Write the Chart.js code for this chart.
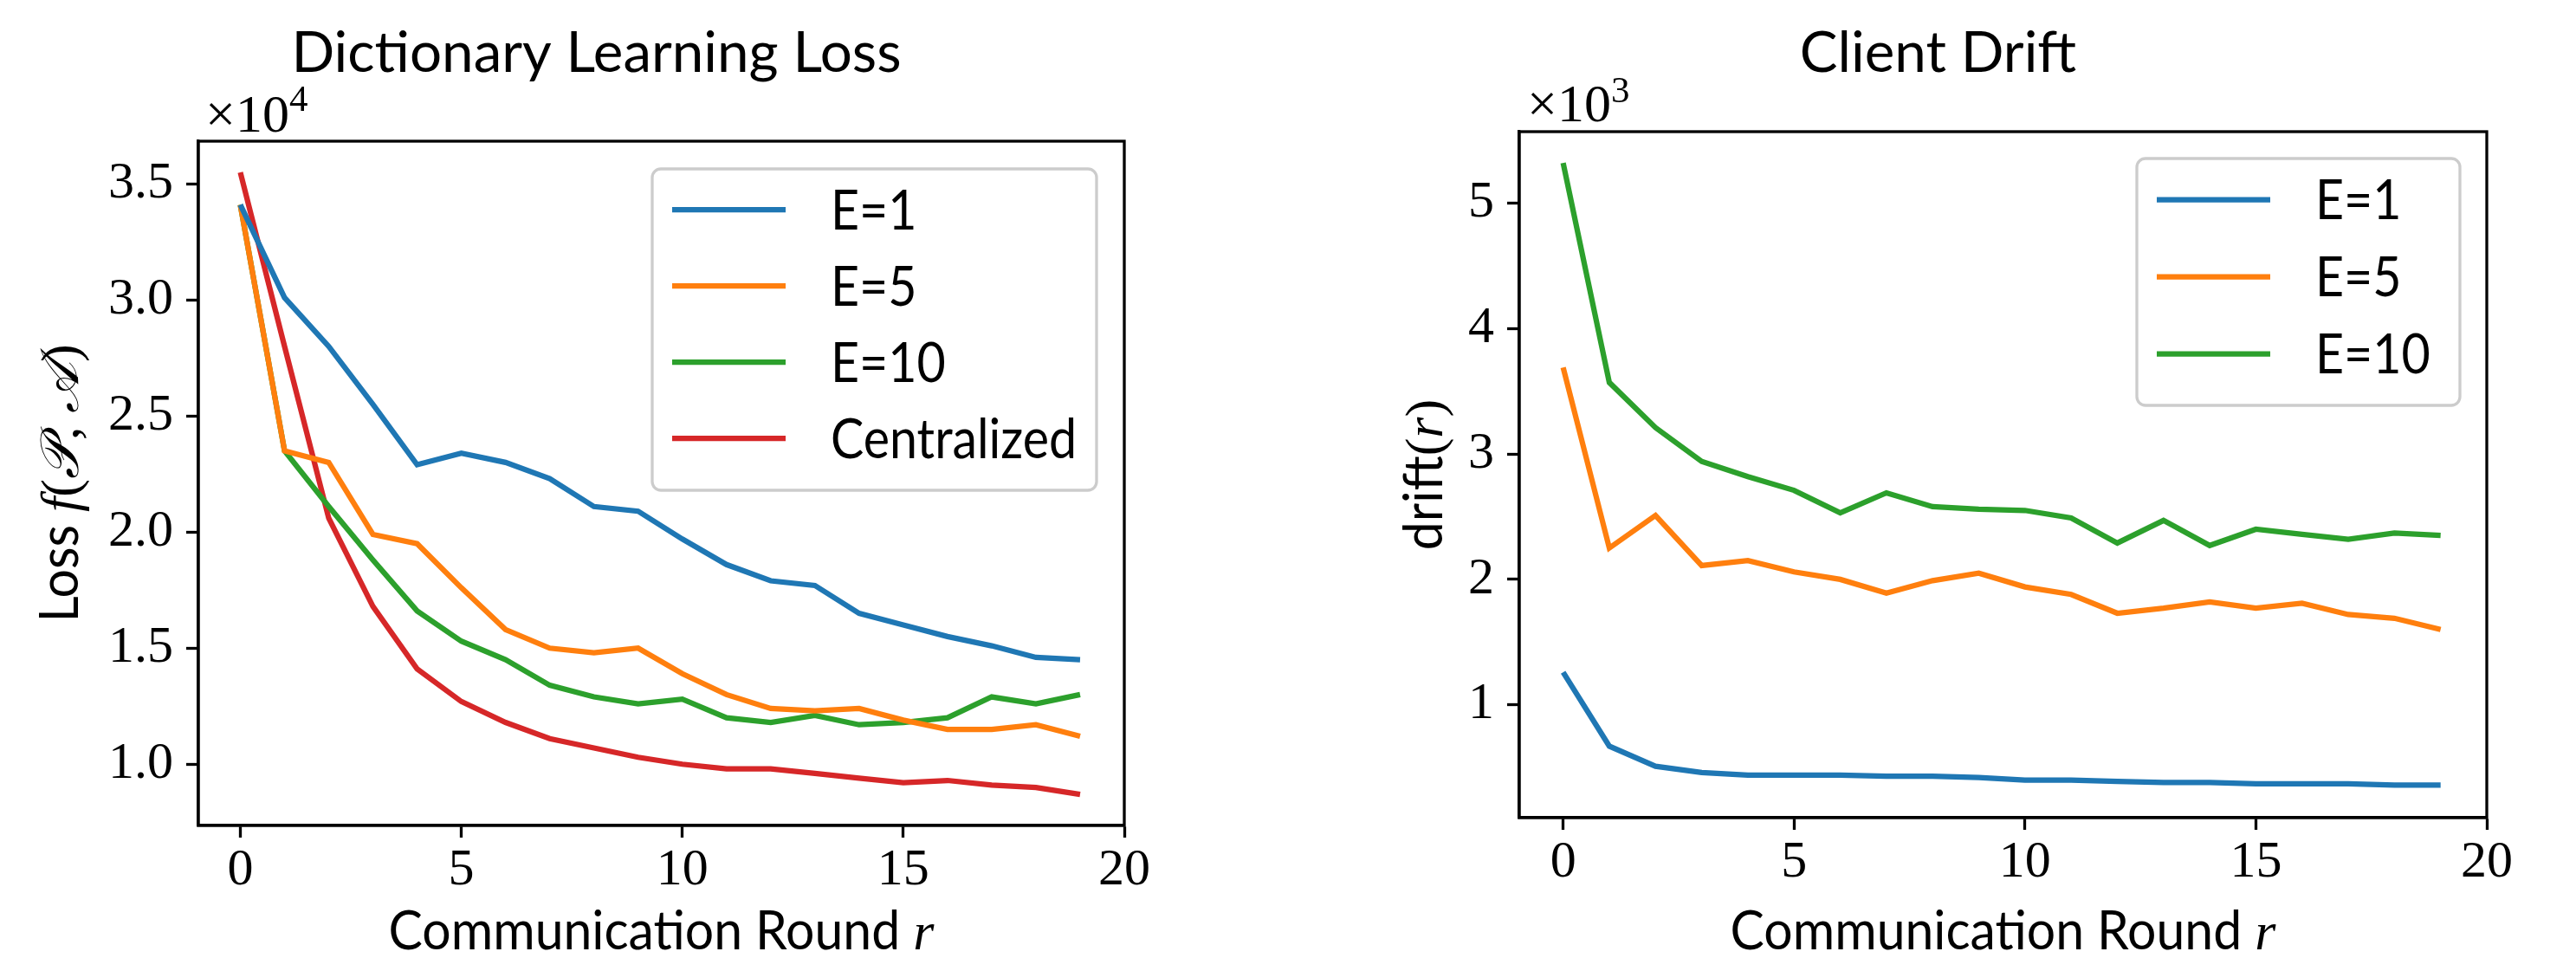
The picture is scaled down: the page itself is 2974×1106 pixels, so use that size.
<!DOCTYPE html>
<html>
<head>
<meta charset="utf-8">
<script src="https://cdn.jsdelivr.net/npm/chart.js@4.4.0/dist/chart.umd.min.js"></script>
<style>
  html, body { margin: 0; padding: 0; background: #fff; }
  #wrap { position: relative; width: 2974px; height: 1106px; }
  .pane { position: absolute; top: 0; width: 1487px; height: 1106px; }
</style>
</head>
<body>
<div id="wrap">
  <div class="pane" style="left:0"><canvas id="lossChart" width="1487" height="1106"></canvas></div>
  <div class="pane" style="left:1487px"><canvas id="driftChart" width="1487" height="1106"></canvas></div>
</div>
<script>
// communication rounds
const rounds = [0, 1, 2, 3, 4, 5, 6, 7, 8, 9, 10, 11, 12, 13, 14, 15, 16, 17, 18, 19];

// loss, in units of 10^4
const lossE1 = [3.41, 3.01, 2.80, 2.55, 2.29, 2.34, 2.30, 2.23, 2.11, 2.09, 1.97, 1.86, 1.79, 1.77, 1.65, 1.60, 1.55, 1.51, 1.46, 1.45];
const lossE5 = [3.41, 2.35, 2.30, 1.99, 1.95, 1.76, 1.58, 1.50, 1.48, 1.50, 1.39, 1.30, 1.24, 1.23, 1.24, 1.19, 1.15, 1.15, 1.17, 1.12];
const lossE10 = [3.41, 2.35, 2.11, 1.88, 1.66, 1.53, 1.45, 1.34, 1.29, 1.26, 1.28, 1.20, 1.18, 1.21, 1.17, 1.18, 1.20, 1.29, 1.26, 1.30];
const lossCentral = [3.55, 2.80, 2.06, 1.68, 1.41, 1.27, 1.18, 1.11, 1.07, 1.03, 1.00, 0.98, 0.98, 0.96, 0.94, 0.92, 0.93, 0.91, 0.90, 0.87];

// client drift, in units of 10^3
const driftE1 = [1.26, 0.67, 0.51, 0.46, 0.44, 0.44, 0.44, 0.43, 0.43, 0.42, 0.40, 0.40, 0.39, 0.38, 0.38, 0.37, 0.37, 0.37, 0.36, 0.36];
const driftE5 = [3.69, 2.25, 2.51, 2.11, 2.15, 2.06, 2.00, 1.89, 1.99, 2.05, 1.94, 1.88, 1.73, 1.77, 1.82, 1.77, 1.81, 1.72, 1.69, 1.60];
const driftE10 = [5.32, 3.57, 3.21, 2.94, 2.82, 2.71, 2.53, 2.69, 2.58, 2.56, 2.55, 2.49, 2.29, 2.47, 2.27, 2.40, 2.36, 2.32, 2.37, 2.35];

// tick labels
const roundTicks = [0, 5, 10, 15, 20];
const lossTicks = ['1.0', '1.5', '2.0', '2.5', '3.0', '3.5'];
const driftTicks = ['1', '2', '3', '4', '5'];

const COLORS = ['#1f77b4', '#ff7f0e', '#2ca02c', '#d62728'];
const SANS = 'Lato';
const SERIF = '"Liberation Serif"';
const FS = 62;

// draw a row of differently styled text pieces; sx squeezes a piece horizontally
function drawRuns(ctx, runs, x, y, align) {
  let total = 0;
  runs.forEach(r => { ctx.font = r.font; r.w = ctx.measureText(r.t).width * (r.sx || 1); total += r.w; });
  let cx = align === 'center' ? x - total / 2 : x;
  ctx.textAlign = 'left';
  ctx.textBaseline = 'alphabetic';
  runs.forEach(r => {
    ctx.font = r.font;
    ctx.save();
    ctx.translate(cx, y + (r.dy || 0));
    ctx.scale(r.sx || 1, 1);
    ctx.fillText(r.t, 0, 0);
    ctx.restore();
    cx += r.w;
  });
}

const sans = (t, size, sx) => ({ t, font: `${size || FS}px ${SANS}`, sx });
const serif = t => ({ t, font: `${FS}px ${SERIF}` });
const ital = t => ({ t, font: `italic ${FS}px ${SERIF}` });
const sup = (t, dy) => ({ t, font: `${Math.round(FS * 0.7)}px ${SERIF}`, dy });

const decor = {
  id: 'decor',
  afterDraw(chart, args, o) {
    const { ctx, chartArea: a } = chart;
    ctx.save();
    ctx.strokeStyle = '#000';
    ctx.lineWidth = 3.3;
    ctx.strokeRect(a.left, a.top, a.right - a.left, a.bottom - a.top);
    ctx.fillStyle = '#000';
    const cx = (a.left + a.right) / 2;
    drawRuns(ctx, [sans(o.title, 65.5)], cx + o.titleShift, o.titleY, 'center');
    drawRuns(ctx, o.xLabel, cx, o.xLabelY, 'center');
    ctx.save();
    ctx.translate(o.yLabelX, (a.top + a.bottom) / 2);
    ctx.rotate(-Math.PI / 2);
    drawRuns(ctx, o.yLabel, 0, 0, 'center');
    ctx.restore();
    drawRuns(ctx, o.offset, o.offsetX, o.offsetY, 'left');

    const L = o.legend;
    ctx.beginPath();
    ctx.roundRect(L.x, L.y, L.w, L.h, 10);
    ctx.fillStyle = 'rgba(255,255,255,0.8)';
    ctx.fill();
    ctx.strokeStyle = '#cccccc';
    ctx.lineWidth = 3.3;
    ctx.stroke();
    chart.data.datasets.forEach((ds, i) => {
      const y = L.rowY + i * L.rowStep;
      ctx.strokeStyle = ds.borderColor;
      ctx.lineWidth = 6.25;
      ctx.beginPath();
      ctx.moveTo(L.lineX, y);
      ctx.lineTo(L.lineX + 131, y);
      ctx.stroke();
      ctx.fillStyle = '#000';
      drawRuns(ctx, [sans(ds.label, 63, 0.91)], L.lineX + 183, y + 22.5, 'left');
    });
    ctx.restore();
  }
};

function series(label, values, i) {
  return {
    label,
    data: values.map((v, k) => ({ x: rounds[k], y: v })),
    borderColor: COLORS[i],
    backgroundColor: COLORS[i],
    borderWidth: 6.25,
    pointRadius: 0,
    tension: 0,
    fill: false
  };
}

function axisCommon() {
  return {
    grid: { drawOnChartArea: false, drawTicks: true, tickLength: 14, tickWidth: 3.3, tickColor: '#000', color: '#000' },
    border: { color: '#000', width: 3.3 },
  };
}

function makeChart(id, datasets, cfg) {
  return new Chart(document.getElementById(id), {
    type: 'line',
    data: { datasets },
    plugins: [decor],
    options: {
      responsive: false,
      animation: false,
      devicePixelRatio: 1,
      layout: { padding: { left: 0, top: cfg.top, right: cfg.right, bottom: 0 } },
      plugins: { legend: { display: false }, tooltip: { enabled: false }, title: { display: false }, decor: cfg.decor },
      scales: {
        x: Object.assign(axisCommon(), {
          type: 'linear', min: -0.95, max: 20,
          afterBuildTicks: s => { s.ticks = roundTicks.map(v => ({ value: v })); },
          afterFit: s => { s.height = cfg.xHeight; },
          ticks: { autoSkip: false, maxRotation: 0, padding: 2, color: '#000',
                   font: { family: 'Liberation Serif', size: 60 }, callback: v => String(v) }
        }),
        y: Object.assign(axisCommon(), {
          type: 'linear', min: cfg.ymin, max: cfg.ymax,
          afterBuildTicks: s => { s.ticks = cfg.yTicks.map(t => ({ value: parseFloat(t) })); },
          afterFit: s => { s.width = cfg.yWidth; },
          ticks: { autoSkip: false, padding: 15, color: '#000',
                   font: { family: 'Liberation Serif', size: 60 },
                   callback: v => cfg.yTicks.find(t => parseFloat(t) === v) }
        })
      }
    }
  });
}

makeChart('lossChart', [
  series('E=1', lossE1, 0),
  series('E=5', lossE5, 1),
  series('E=10', lossE10, 2),
  series('Centralized', lossCentral, 3)
], {
  top: 163, right: 189, xHeight: 153, yWidth: 229, ymin: 0.736, ymax: 3.684, yTicks: lossTicks,
  decor: {
    title: 'Dictionary Learning Loss', titleY: 83, titleShift: -75,
    xLabel: [sans('Communication Round ', 62, 0.95), ital('r')], xLabelY: 1096,
    yLabel: [sans('Loss ', 62, 0.95), ital('f'), serif('('), ital('\u{1D4AB}'), serif(', '), ital('\u{1D49C}'), serif(')')], yLabelX: 90,
    offset: [serif('\u00D710'), sup('4', -24)], offsetX: 237, offsetY: 152,
    legend: { x: 753, y: 195, w: 513, h: 371, rowY: 242, rowStep: 88, lineX: 776 }
  }
});

makeChart('driftChart', [
  series('E=1', driftE1, 0),
  series('E=5', driftE5, 1),
  series('E=10', driftE10, 2)
], {
  top: 152, right: 103, xHeight: 162, yWidth: 267, ymin: 0.10, ymax: 5.57, yTicks: driftTicks,
  decor: {
    title: 'Client Drift', titleY: 83, titleShift: -75,
    xLabel: [sans('Communication Round ', 62, 0.95), ital('r')], xLabelY: 1096,
    yLabel: [sans('drift', 62, 0.95), serif('('), ital('r'), serif(')')], yLabelX: 178,
    offset: [serif('\u00D710'), sup('3', -22)], offsetX: 276, offsetY: 140,
    legend: { x: 980, y: 183, w: 373, h: 285, rowY: 230.5, rowStep: 89, lineX: 1003 }
  }
});
</script>
</body>
</html>
